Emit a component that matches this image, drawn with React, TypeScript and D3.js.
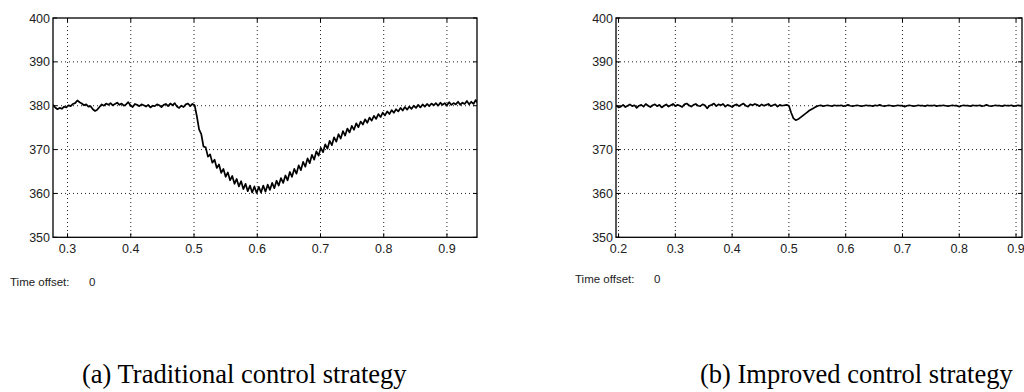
import React from 'react';
import * as d3 from 'd3';

// sampled scope traces (voltage, V); uniform sample step per trace
const tradStart = 0.277;
const tradStep = 0.0035;
const tradValues = [
  380.2, 379.6, 379.2, 379.5, 379.3, 379.8, 379.6, 380.1,
  379.9, 380.4, 380.6, 381.2, 380.8, 380.5, 380.1, 380.3,
  379.8, 379.9, 379.2, 378.8, 379.1, 379.7, 380.3, 380.0,
  380.5, 380.2, 380.6, 380.1, 380.4, 380.7, 380.2, 380.5,
  380.0, 380.3, 380.8, 380.1, 379.7, 380.4, 380.2, 379.9,
  380.3, 380.1, 379.8, 380.2, 379.6, 380.0, 379.9, 380.3,
  380.1, 379.7, 380.2, 380.4, 379.9, 380.5, 380.1, 380.6,
  379.8, 379.5, 380.0, 379.7, 380.3, 380.5, 379.9, 380.4,
  380.1, 377.6, 374.6, 373.5, 370.7, 370.5, 368.4, 368.9,
  367.0, 367.7, 365.8, 366.6, 364.7, 365.6, 363.8, 364.8,
  363.0, 364.0, 362.2, 363.3, 361.6, 362.8, 361.0, 362.2,
  360.5, 361.8, 360.2, 361.6, 360.1, 361.5, 360.2, 361.8,
  360.4, 362.0, 360.8, 362.4, 361.2, 362.9, 361.8, 363.5,
  362.4, 364.1, 363.0, 364.9, 363.8, 365.6, 364.5, 366.4,
  365.3, 367.2, 366.1, 368.0, 366.9, 368.8, 367.7, 369.6,
  368.6, 370.4, 369.4, 371.2, 370.2, 372.0, 371.0, 372.8,
  371.8, 373.5, 372.5, 374.2, 373.2, 374.8, 373.9, 375.4,
  374.5, 376.0, 375.1, 376.4, 375.7, 376.9, 376.1, 377.3,
  376.6, 377.7, 377.0, 378.1, 377.4, 378.4, 377.8, 378.7,
  378.1, 379.0, 378.4, 379.2, 378.7, 379.5, 378.9, 379.7,
  379.1, 379.8, 379.3, 380.0, 379.5, 380.2, 379.6, 380.3,
  379.8, 380.4, 379.9, 380.5, 380.1, 380.6, 380.0, 380.7,
  380.2, 380.6, 380.1, 380.8, 380.2, 380.6, 380.3, 380.9,
  380.2, 380.7, 380.4, 381.1, 380.3, 380.9, 380.4, 381.3,
  380.5,
];

const impStart = 0.196;
const impStep = 0.004;
const impValues = [
  380.1, 379.6, 379.8, 380.2, 379.7, 380.0, 380.3, 379.9, 380.1, 379.5,
  380.0, 380.2, 379.8, 380.4, 380.0, 379.7, 380.1, 380.3, 379.9, 380.2,
  379.6, 380.0, 380.3, 379.8, 380.1, 380.4, 379.9, 380.2, 380.0, 379.7,
  380.3, 380.5, 380.1, 379.8, 380.2, 380.4, 380.0, 379.9, 380.3, 380.1,
  379.4, 380.0, 380.2, 380.5, 379.9, 380.3, 380.1, 380.4, 379.8, 380.2,
  380.0, 379.7, 380.1, 380.3, 379.9, 380.2, 380.5, 380.0, 379.8, 380.3,
  380.1, 380.4, 380.2, 379.9, 380.3, 380.0, 380.2, 380.4, 379.9, 380.1,
  380.3, 379.8, 380.2, 380.0, 380.1, 380.2,
  380.0, 378.4, 377.1, 376.7, 376.9, 377.3, 377.7, 378.1, 378.5, 378.9,
  379.2, 379.5, 379.8,
  380.0, 380.1, 379.9, 380.0, 380.1, 380.0, 379.9, 380.1, 380.0, 380.0,
  380.1, 379.9, 380.0, 380.2, 380.0, 379.9, 380.0, 380.1, 380.0, 379.9,
  380.0, 380.1, 380.0, 380.0, 379.9, 380.1, 380.0, 380.2, 380.0, 379.9,
  380.0, 380.1, 380.0, 379.9, 380.0, 380.1, 380.0, 380.0, 379.8, 380.0,
  380.1, 380.0, 379.9, 380.0, 380.1, 380.0, 380.0, 379.9, 380.1, 380.0,
  380.0, 380.1, 379.9, 380.0, 380.0, 380.1, 380.0, 379.9, 380.0, 380.1,
  380.0, 380.0, 379.8, 380.0, 380.1, 380.0, 380.0, 379.9, 380.1, 380.0,
  380.0, 380.1, 379.9, 380.0, 380.2, 380.0, 379.9, 380.0, 380.1, 380.0,
  380.0, 379.9, 380.1, 380.0, 380.0, 380.1, 379.9, 380.0, 380.1, 380.0, 380.0,
];

const yTicks = [350, 360, 370, 380, 390, 400];
const xTicksA = [0.3, 0.4, 0.5, 0.6, 0.7, 0.8, 0.9];
const xTicksB = [0.2, 0.3, 0.4, 0.5, 0.6, 0.7, 0.8, 0.9];

const tickFont = '"Liberation Sans", Arial, sans-serif';
const captionFont = '"Liberation Serif", "Times New Roman", serif';

function Scope({ id, left, right, domain, xTicks, start, step, values, offsetX, offsetY }) {
  const top = 18;
  const bottom = 237.3;
  const x = d3.scaleLinear().domain(domain).range([left, right]);
  const y = d3.scaleLinear().domain([350, 400]).range([bottom, top]);
  const pts = values.map((v, i) => [start + i * step, v]);
  const line = d3.line().x((d) => x(d[0])).y((d) => y(d[1]));
  const tl = 4;

  return (
    <g>
      <defs>
        <clipPath id={id}>
          <rect x={left} y={top} width={right - left} height={bottom - top} />
        </clipPath>
      </defs>
      <rect x={left} y={top} width={right - left} height={bottom - top} fill="#fff" />
      {/* dotted grid */}
      {xTicks.map((t) => (
        <line key={'gx' + t} x1={x(t)} x2={x(t)} y1={top} y2={bottom}
          stroke="#222" strokeWidth={1} strokeDasharray="1,3" />
      ))}
      {yTicks.filter((t) => t > 350 && t < 400).map((t) => (
        <line key={'gy' + t} x1={left} x2={right} y1={y(t)} y2={y(t)}
          stroke="#222" strokeWidth={1} strokeDasharray="1,3" />
      ))}
      <path d={line(pts)} fill="none" stroke="#000" strokeWidth={1.7}
        strokeLinejoin="round" clipPath={`url(#${id})`} />
      {/* tick marks, all four sides, pointing in */}
      {xTicks.map((t) => (
        <g key={'tx' + t} stroke="#000" strokeWidth={1}>
          <line x1={x(t)} x2={x(t)} y1={bottom} y2={bottom - tl} />
          <line x1={x(t)} x2={x(t)} y1={top} y2={top + tl} />
        </g>
      ))}
      {yTicks.map((t) => (
        <g key={'ty' + t} stroke="#000" strokeWidth={1}>
          <line x1={left} x2={left + tl} y1={y(t)} y2={y(t)} />
          <line x1={right} x2={right - tl} y1={y(t)} y2={y(t)} />
        </g>
      ))}
      <rect x={left} y={top} width={right - left} height={bottom - top}
        fill="none" stroke="#000" strokeWidth={1.3} />
      {yTicks.map((t) => (
        <text key={'ly' + t} x={left - 3} y={y(t)} dy="0.36em" textAnchor="end"
          fontFamily={tickFont} fontSize={12.5} fill="#222">{t}</text>
      ))}
      {xTicks.map((t) => (
        <text key={'lx' + t} x={x(t)} y={bottom + 16} textAnchor="middle"
          fontFamily={tickFont} fontSize={12.5} fill="#222">{d3.format('.1f')(t)}</text>
      ))}
      <text x={offsetX} y={offsetY} fontFamily={tickFont} fontSize={11.5} fill="#222">
        Time offset:
        <tspan x={offsetX + 79}>0</tspan>
      </text>
    </g>
  );
}

export default function App() {
  return (
    <svg width={1024} height={392} style={{ position: 'absolute', left: 0, top: 0, background: '#fff' }}>
      <rect x={0} y={0} width={1024} height={392} fill="#fff" />
      <Scope id="clipA" left={53} right={477} domain={[0.277, 0.9475]} xTicks={xTicksA}
        start={tradStart} step={tradStep} values={tradValues} offsetX={10} offsetY={285.5} />
      <Scope id="clipB" left={616} right={1022} domain={[0.1955, 0.9105]} xTicks={xTicksB}
        start={impStart} step={impStep} values={impValues} offsetX={575} offsetY={283} />
      <text x={82} y={383} fontFamily={captionFont} fontSize={26.5} fill="#000">
        (a) Traditional control strategy
      </text>
      <text x={700} y={383} fontFamily={captionFont} fontSize={26.5} fill="#000">
        (b) Improved control strategy
      </text>
    </svg>
  );
}
